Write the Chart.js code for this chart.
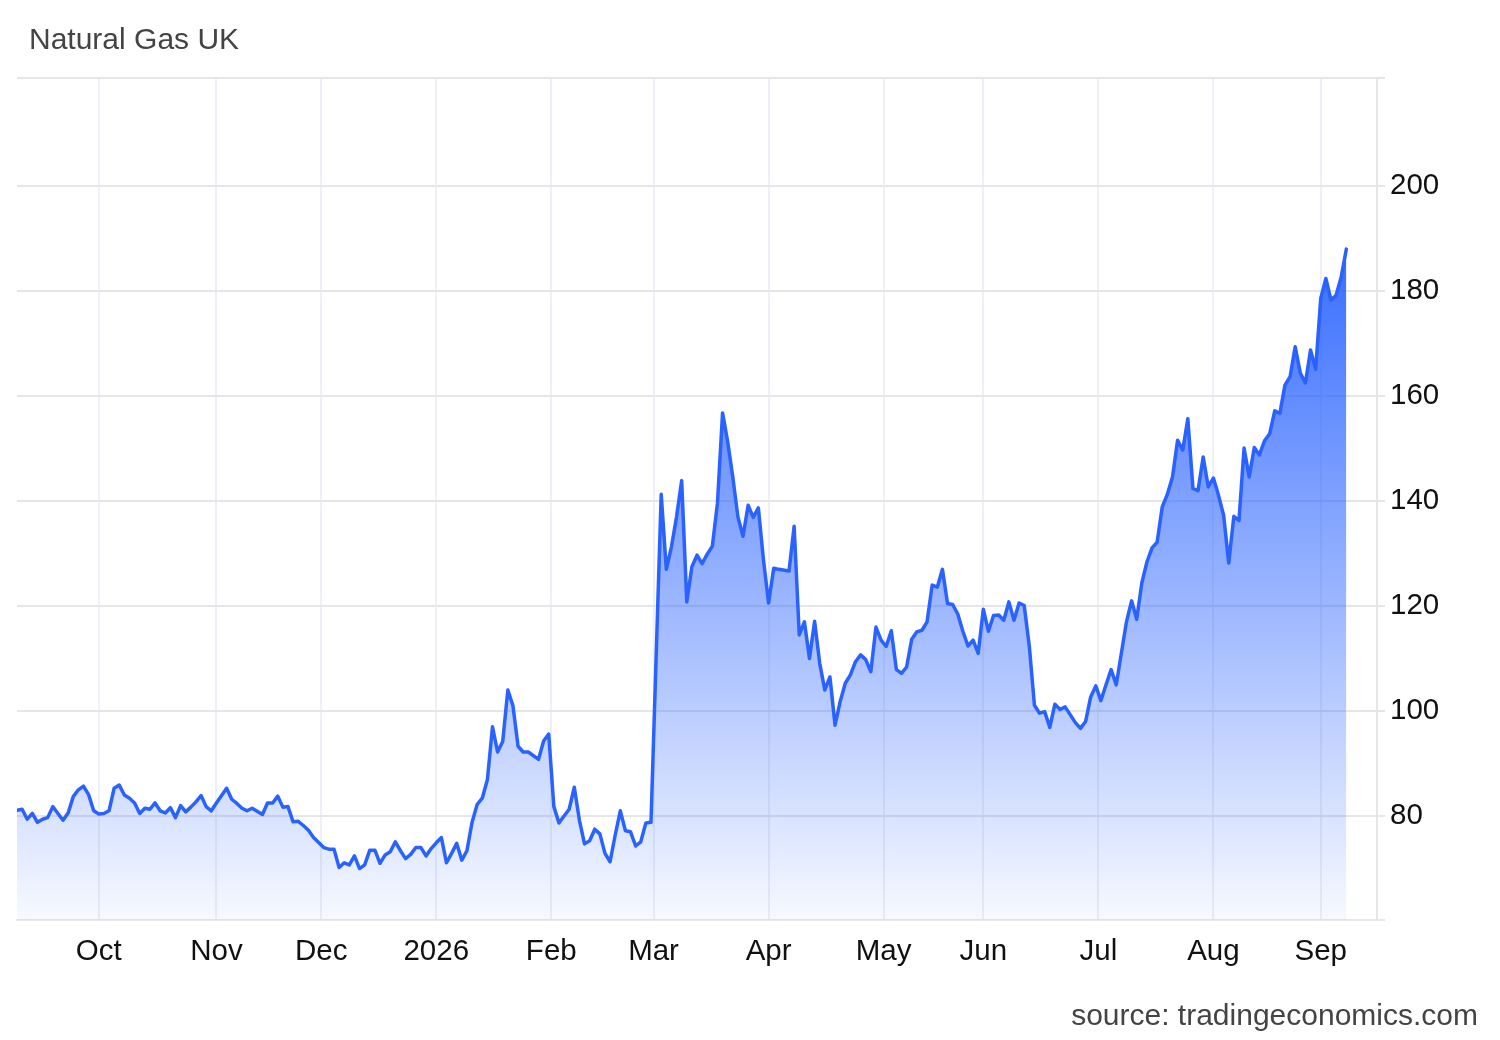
<!DOCTYPE html>
<html>
<head>
<meta charset="utf-8">
<script src="https://cdn.jsdelivr.net/npm/chart.js@4.4.1/dist/chart.umd.min.js"></script>
<style>
  html, body { margin: 0; padding: 0; background: #fff; }
  #wrap { position: relative; width: 1500px; height: 1040px; overflow: hidden; }
  canvas { position: absolute; left: 0; top: 0; }
  .txt { position: absolute; font-family: "Liberation Sans", Arial, sans-serif; font-size: 30px; line-height: 34px; white-space: nowrap; }
  #title { left: 29px; top: 22px; color: #444; }
  #source { right: 22px; top: 998px; color: #444; }
</style>
</head>
<body>
<div id="wrap">
  <canvas id="c" width="1500" height="1040"></canvas>
  <div id="title" class="txt">Natural Gas UK</div>
  <div id="source" class="txt">source: tradingeconomics.com</div>
</div>
<script>
// trading-day index (weekdays since start of window) and price (GBp/thm)
const dayIdx = [
  0,1,2,3,4,5,6,7,8,9,10,11,12,13,14,15,16,17,18,19,20,21,22,23,24,25,26,27,28,29,
  30,31,32,33,34,35,36,37,38,39,41,42,43,44,45,46,48,49,50,51,52,53,54,55,56,57,58,
  60,61,62,63,64,65,66,67,68,69,70,71,72,73,74,75,76,77,78,79,80,81,82,83,84,85,86,87,88,89,
  90,91,92,93,94,95,96,97,98,99,100,102,103,104,105,106,107,108,109,110,111,112,113,114,115,116,117,118,119,
  120,121,122,123,124,126,127,128,129,130,131,132,133,134,135,136,137,138,139,140,141,142,143,144,145,146,147,148,149,
  151,152,153,154,155,156,157,158,159,160,161,162,163,164,165,166,167,168,169,170,171,172,173,174,175,176,177,178,179,
  180,181,182,183,184,185,186,187,188,189,190,191,192,193,194,195,196,197,198,199,200,201,202,203,204,205,207,208,209,
  210,211,212,213,214,215,216,217,218,219,220,221,222,223,224,225,226,227,228,229,230,231,232,233,234,235,236,237,238,239,
  240,241,242,243,244,245,246,247,248,249,250,251,252,253,254,255,256,257,258,259,260
];
const price = [
  81.1,81.3,79.4,80.5,78.8,79.4,79.7,81.8,80.5,79.2,80.6,83.7,85.0,85.7,84.1,81.0,80.4,80.5,81.0,85.3,85.9,84.0,83.4,82.5,80.5,81.5,81.3,82.5,81.0,80.6,
  81.6,79.7,82.0,80.8,81.7,82.7,83.9,81.8,81.0,82.5,85.3,83.2,82.4,81.5,81.0,81.5,80.3,82.5,82.5,83.8,81.7,81.8,78.9,79.0,78.2,77.3,75.9,
  74.0,73.7,73.7,70.2,71.1,70.7,72.4,70.0,70.7,73.5,73.5,71.0,72.6,73.2,75.1,73.4,71.9,72.7,74.0,74.0,72.4,73.8,74.9,75.9,71.1,72.9,74.8,71.6,73.4,78.8,
  82.2,83.4,86.9,97.0,92.2,94.2,104.0,101.0,93.3,92.2,92.2,90.8,94.3,95.6,81.8,78.7,80.0,81.3,85.5,79.2,74.7,75.3,77.5,76.6,72.9,71.3,76.4,81.0,77.2,
  77.0,74.3,75.1,78.7,78.8,141.3,127.0,131.3,137.0,143.9,120.8,127.5,129.7,128.1,129.9,131.4,139.6,156.8,151.3,144.6,137.0,133.3,139.2,136.9,138.7,128.8,120.6,127.2,127.0,
  126.7,135.2,114.5,117.0,110.0,117.1,109.1,104.0,106.5,97.3,101.8,105.3,106.9,109.4,110.7,109.8,107.5,116.0,113.5,112.3,115.3,107.9,107.2,108.4,113.7,115.1,115.4,117.0,124.0,
  123.6,127.0,120.5,120.3,118.5,115.2,112.4,113.5,111.0,119.4,115.2,118.2,118.3,117.3,120.8,117.3,120.6,120.1,112.3,101.1,99.6,99.9,96.9,101.3,100.3,100.8,97.8,96.7,98.0,
  102.7,104.8,102.0,105.0,107.9,105.0,111.0,117.0,121.0,117.5,124.4,128.4,131.1,132.2,138.9,141.3,144.6,151.6,149.7,155.7,142.4,142.0,148.4,142.7,144.4,141.1,137.3,128.2,137.1,136.3,
  150.1,144.6,150.2,148.8,151.5,152.8,157.2,156.7,162.1,163.7,169.4,164.4,162.5,168.8,165.1,178.6,182.4,178.3,179.2,182.7,188.0
];
const monthLabels = ['Oct','Nov','Dec','2026','Feb','Mar','Apr','May','Jun','Jul','Aug','Sep'];
const monthIdx    = [16, 39, 59.5, 82, 104.5, 124.5, 147, 169.5, 189, 211.5, 234, 255];
const yTickValues = [80, 100, 120, 140, 160, 180, 200];
const yMin = 60.2, yMax = 220.6;
const xMin = 0, xMax = 266;

const FONT = '"Liberation Sans", Arial, sans-serif';
const LINE = 'rgb(41,98,255)';

const points = dayIdx.map((x, i) => ({ x: x, y: price[i] }));

new Chart(document.getElementById('c').getContext('2d'), {
  type: 'line',
  data: {
    datasets: [{
      data: points,
      borderColor: LINE,
      borderWidth: 3.5,
      borderJoinStyle: 'round',
      borderCapStyle: 'round',
      pointRadius: 0,
      tension: 0,
      fill: 'start',
      backgroundColor: (c) => {
        const chart = c.chart;
        const area = chart.chartArea;
        if (!area) return 'rgba(41,98,255,0.3)';
        const top = chart.scales.y.getPixelForValue(Math.max.apply(null, price));
        const g = chart.ctx.createLinearGradient(0, top, 0, area.bottom);
        g.addColorStop(0, 'rgba(41,98,255,0.93)');
        g.addColorStop(1, 'rgba(41,98,255,0.04)');
        return g;
      }
    }]
  },
  options: {
    responsive: false,
    animation: false,
    layout: { padding: { left: 17, top: 78, right: 0, bottom: 60 } },
    plugins: { legend: { display: false }, tooltip: { enabled: false }, title: { display: false } },
    scales: {
      x: {
        type: 'linear',
        min: xMin,
        max: xMax,
        afterBuildTicks: (s) => { s.ticks = monthIdx.map(v => ({ value: v })); },
        afterFit: (s) => { s.height = 60; },
        ticks: {
          autoSkip: false,
          maxRotation: 0,
          padding: 14,
          color: '#111',
          font: { family: FONT, size: 29.5 },
          callback: (v, i) => monthLabels[i]
        },
        grid: { color: '#edf0f6', lineWidth: 2, drawTicks: false },
        border: { color: '#e6e6e6', width: 2 }
      },
      y: {
        position: 'right',
        min: yMin,
        max: yMax,
        afterBuildTicks: (s) => { s.ticks = [yMin].concat(yTickValues, [yMax]).map(v => ({ value: v })); },
        afterFit: (s) => { s.width = 123; },
        ticks: {
          padding: 5,
          color: '#111',
          font: { family: FONT, size: 29.5 },
          callback: (v) => yTickValues.includes(v) ? String(v) : ''
        },
        grid: { color: '#e6e6e6', lineWidth: 2, tickLength: 8 },
        border: { color: '#e6e6e6', width: 2 }
      }
    }
  }
});
</script>
</body>
</html>
